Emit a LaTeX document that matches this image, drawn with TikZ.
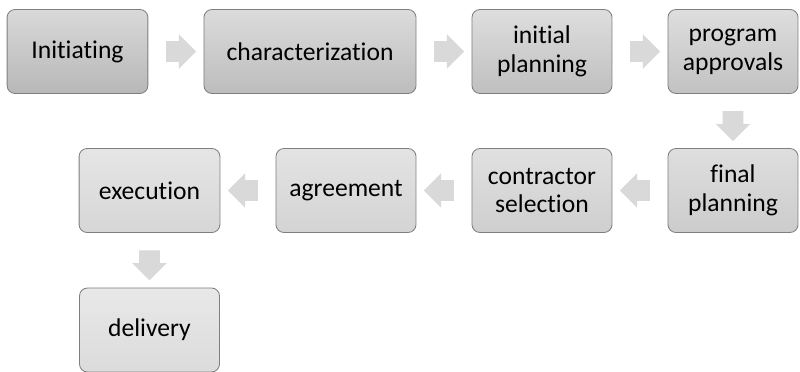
\documentclass[tikz,border=0pt]{standalone}
\usepackage{fontspec}
\setmainfont{Carlito}[Ligatures=CommonOff]
\usetikzlibrary{shapes.arrows,calc}
\definecolor{boxline}{HTML}{7F7F7F}
\definecolor{flowgray}{HTML}{D9D9D9}
\tikzset{
  stage/.style={draw=boxline, line width=0.6pt, rounded corners=0.2cm,
    minimum height=2.1cm, align=center, inner sep=2pt,
    font=\fontsize{18.2}{20.5}\selectfont},
  tone/.style 2 args={top color=black!#1, bottom color=black!#2},
  flow/.style={single arrow, fill=flowgray, draw=none, inner sep=0pt,
    inner ysep=0.25cm, minimum height=0.75cm, single arrow head extend=0.175cm}
}
\begin{document}
\begin{tikzpicture}[x=0.025cm,y=-0.025cm]
  \useasboundingbox (0,0) rectangle (800,372);
  % first row
  \node[stage,tone={15}{28},minimum width=3.52cm] (init) at (77.5,51.5) {Initiating};
  \node[stage,tone={14}{26},minimum width=5.3cm] (char) at (310,51.5) {characterization};
  \node[stage,tone={13}{25},minimum width=3.5cm] (iplan) at (542,51.5) {initial\\planning};
  \node[stage,tone={13}{24},minimum width=3.25cm] (appr) at (733,51.5) {program\\approvals};
  % second row
  \node[stage,tone={13}{20},minimum width=3.25cm] (fplan) at (733,190.5) {final\\planning};
  \node[stage,tone={12}{19},minimum width=3.5cm] (csel) at (542,190.5) {contractor\\selection};
  \node[stage,tone={11}{17},minimum width=3.5cm] (agree) at (346,190.5) {agreement};
  \node[stage,tone={10}{16},minimum width=3.52cm] (exec) at (149.5,190.5) {execution};
  \node[stage,tone={9}{14},minimum width=3.5cm] (deliv) at (149.5,330) {delivery};
  % arrows
  \foreach \a/\b in {init/char,char/iplan,iplan/appr}
    \node[flow] (\a-\b) at ($(\a.east)!0.5!(\b.west)$) {};
  \foreach \a/\b in {fplan/csel,csel/agree,agree/exec}
    \node[flow,rotate=180] (\a-\b) at ($(\a.west)!0.5!(\b.east)$) {};
  \foreach \a/\b in {appr/fplan,exec/deliv}
    \node[flow,rotate=-90] (\a-\b) at ($(\a.south)!0.5!(\b.north)$) {};
\end{tikzpicture}
\end{document}
